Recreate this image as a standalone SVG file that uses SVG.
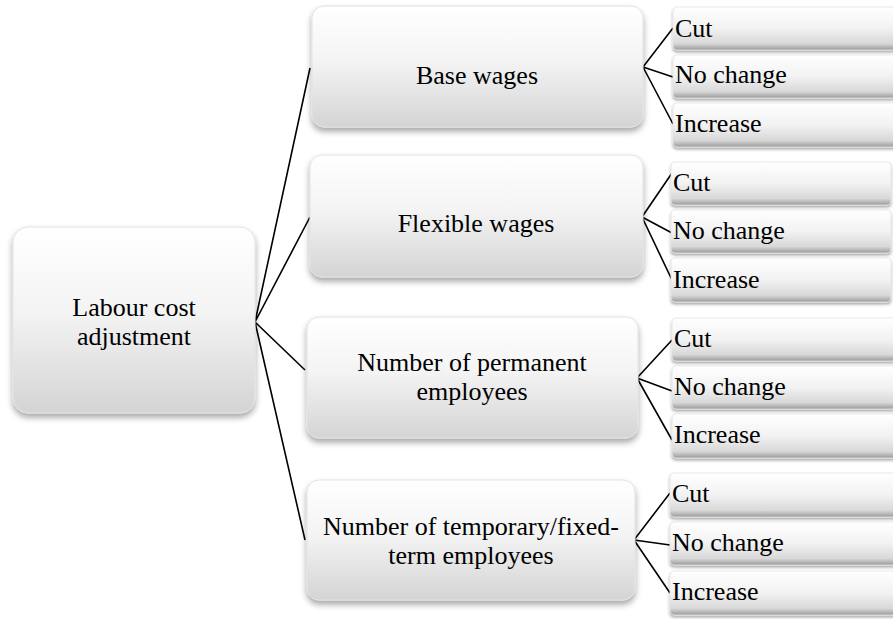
<svg xmlns="http://www.w3.org/2000/svg" width="893" height="619" viewBox="0 0 893 619">
<defs>
<linearGradient id="g" x1="0" y1="0" x2="0" y2="1">
<stop offset="0" stop-color="#ffffff"/>
<stop offset="0.45" stop-color="#f4f4f4"/>
<stop offset="1" stop-color="#d4d4d4"/>
</linearGradient>
<linearGradient id="g3" x1="0" y1="0" x2="0" y2="1">
<stop offset="0" stop-color="#ffffff"/>
<stop offset="0.5" stop-color="#f2f2f2"/>
<stop offset="0.85" stop-color="#d8d8d8"/>
<stop offset="1" stop-color="#9a9a9a"/>
</linearGradient>
<filter id="sh" x="-10%" y="-10%" width="120%" height="130%">
<feDropShadow dx="0" dy="4" stdDeviation="3" flood-color="#000" flood-opacity="0.35"/>
</filter>
<filter id="sh3" x="-5%" y="-10%" width="110%" height="140%">
<feDropShadow dx="0" dy="2" stdDeviation="1.5" flood-color="#000" flood-opacity="0.35"/>
</filter>
</defs>
<style>
.n{fill:url(#g);stroke:#e2e2e2;stroke-width:1;filter:url(#sh)}
.l{fill:url(#g3);stroke:#e4e4e4;stroke-width:0.8;filter:url(#sh3)}
text{font-family:"Liberation Serif","DejaVu Serif",serif;font-size:26px;fill:#000}
.c{text-anchor:middle}
.e{fill:none;stroke:#000;stroke-width:1.6}
</style>
<rect width="893" height="619" fill="#fff"/>

<g id="connectors">
<path class="e" d="M255 322L310 68M255 322L310 217M255 322L305 370M255 322L305 540"/>
<path class="e" d="M643 67L673 28M643 67L673 77M643 67L673 124"/>
<path class="e" d="M642 217L672 173M642 217L672 233M642 217L672 280"/>
<path class="e" d="M637 378L672 340M637 378L672 391M637 378L672 440"/>
<path class="e" d="M634 540L670 493M634 540L670 545M634 540L670 593"/>
</g>

<g id="root">
<rect class="n" x="13" y="227" width="242" height="186" rx="15"/>
<text class="c" x="134" y="316">Labour cost</text>
<text class="c" x="134" y="345">adjustment</text>
</g>

<g id="base-wages">
<rect class="n" x="312" y="6" width="331" height="121" rx="12"/>
<text class="c" x="477" y="84">Base wages</text>
</g>
<g id="flexible-wages">
<rect class="n" x="310" y="155" width="333" height="122" rx="12"/>
<text class="c" x="476" y="232">Flexible wages</text>
</g>
<g id="permanent">
<rect class="n" x="307" y="317" width="331" height="121" rx="12"/>
<text class="c" x="472" y="371">Number of permanent</text>
<text class="c" x="472" y="400">employees</text>
</g>
<g id="temporary">
<rect class="n" x="307" y="480" width="328" height="120" rx="12"/>
<text class="c" x="471" y="535">Number of temporary/fixed-</text>
<text class="c" x="471" y="564">term employees</text>
</g>

<g id="base-cut"><rect class="l" x="673" y="7" width="230" height="43" rx="4"/><text x="675" y="37">Cut</text></g>
<g id="base-nochange"><rect class="l" x="673" y="55" width="230" height="43" rx="4"/><text x="675" y="83">No change</text></g>
<g id="base-increase"><rect class="l" x="673" y="103" width="230" height="44" rx="4"/><text x="675" y="132">Increase</text></g>

<g id="flex-cut"><rect class="l" x="671" y="162" width="220" height="43" rx="4"/><text x="673" y="191">Cut</text></g>
<g id="flex-nochange"><rect class="l" x="671" y="210" width="220" height="43" rx="4"/><text x="673" y="239">No change</text></g>
<g id="flex-increase"><rect class="l" x="671" y="258" width="220" height="44" rx="4"/><text x="673" y="288">Increase</text></g>

<g id="perm-cut"><rect class="l" x="672" y="318" width="230" height="43" rx="4"/><text x="674" y="347">Cut</text></g>
<g id="perm-nochange"><rect class="l" x="672" y="366" width="230" height="43" rx="4"/><text x="674" y="395">No change</text></g>
<g id="perm-increase"><rect class="l" x="672" y="414" width="230" height="44" rx="4"/><text x="674" y="443">Increase</text></g>

<g id="temp-cut"><rect class="l" x="670" y="473" width="230" height="44" rx="4"/><text x="672" y="502">Cut</text></g>
<g id="temp-nochange"><rect class="l" x="670" y="522" width="230" height="43" rx="4"/><text x="672" y="551">No change</text></g>
<g id="temp-increase"><rect class="l" x="670" y="571" width="230" height="44" rx="4"/><text x="672" y="600">Increase</text></g>
</svg>
